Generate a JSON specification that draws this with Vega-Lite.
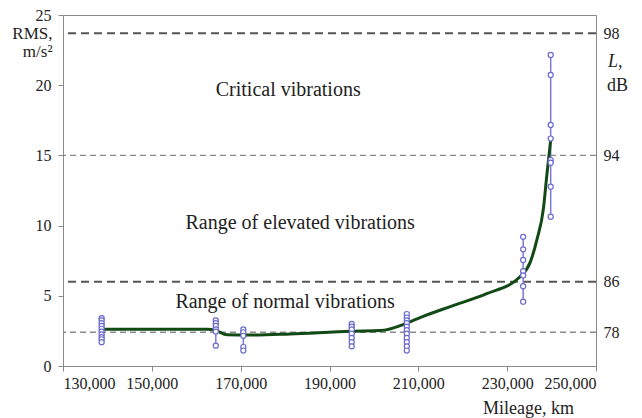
{
  "$schema": "https://vega.github.io/schema/vega-lite/v6.json",
  "width": 533,
  "height": 351,
  "autosize": "none",
  "padding": {"left": 63, "top": 15, "right": 46, "bottom": 52},
  "background": "white",
  "config": {
    "view": {"stroke": "#8a8a8a", "strokeWidth": 1},
    "font": "Liberation Serif",
    "axis": {
      "labelFont": "Liberation Serif",
      "titleFont": "Liberation Serif",
      "labelFontSize": 16,
      "titleFontSize": 18,
      "labelColor": "#222222",
      "titleColor": "#222222",
      "titleFontWeight": "normal",
      "domainColor": "#8a8a8a",
      "tickColor": "#8a8a8a",
      "grid": false
    }
  },
  "title": {
    "text": "L,",
    "font": "Liberation Serif",
    "fontStyle": "italic",
    "fontSize": 18,
    "fontWeight": "normal",
    "color": "#222222",
    "anchor": "end",
    "frame": "group",
    "align": "left",
    "baseline": "middle",
    "dx": 12,
    "dy": 77
  },
  "datasets": {
    "levels": [
      {"rms": 23.7, "L": 98, "kind": "major"},
      {"rms": 15, "L": 94, "kind": "minor"},
      {"rms": 6, "L": 86, "kind": "major"},
      {"rms": 2.4, "L": 78, "kind": "minor"}
    ],
    "curve": [
      {"mileage": 138700, "rms": 2.62},
      {"mileage": 150000, "rms": 2.62},
      {"mileage": 162400, "rms": 2.62},
      {"mileage": 164500, "rms": 2.52},
      {"mileage": 166900, "rms": 2.22},
      {"mileage": 172100, "rms": 2.2},
      {"mileage": 181100, "rms": 2.28},
      {"mileage": 195000, "rms": 2.48},
      {"mileage": 201400, "rms": 2.52},
      {"mileage": 207400, "rms": 3.05},
      {"mileage": 210400, "rms": 3.45},
      {"mileage": 217800, "rms": 4.3},
      {"mileage": 225400, "rms": 5.15},
      {"mileage": 232900, "rms": 6.36},
      {"mileage": 235200, "rms": 7.4},
      {"mileage": 236700, "rms": 9.0},
      {"mileage": 238200, "rms": 11.3},
      {"mileage": 238900, "rms": 13.5},
      {"mileage": 239800, "rms": 16.1}
    ],
    "points": [
      {"mileage": 138700, "rms": 3.4},
      {"mileage": 138700, "rms": 3.25},
      {"mileage": 138700, "rms": 3.05},
      {"mileage": 138700, "rms": 2.85},
      {"mileage": 138700, "rms": 2.65},
      {"mileage": 138700, "rms": 2.45},
      {"mileage": 138700, "rms": 2.25},
      {"mileage": 138700, "rms": 2.05},
      {"mileage": 138700, "rms": 1.9},
      {"mileage": 138700, "rms": 1.7},
      {"mileage": 164400, "rms": 3.25},
      {"mileage": 164400, "rms": 3.05},
      {"mileage": 164400, "rms": 2.85},
      {"mileage": 164400, "rms": 2.6},
      {"mileage": 164400, "rms": 2.45},
      {"mileage": 164400, "rms": 1.45},
      {"mileage": 170600, "rms": 2.6},
      {"mileage": 170600, "rms": 2.4},
      {"mileage": 170600, "rms": 2.15},
      {"mileage": 170600, "rms": 1.35},
      {"mileage": 170600, "rms": 1.1},
      {"mileage": 195000, "rms": 3.0},
      {"mileage": 195000, "rms": 2.8},
      {"mileage": 195000, "rms": 2.6},
      {"mileage": 195000, "rms": 2.3},
      {"mileage": 195000, "rms": 2.0},
      {"mileage": 195000, "rms": 1.7},
      {"mileage": 195000, "rms": 1.4},
      {"mileage": 207400, "rms": 3.7},
      {"mileage": 207400, "rms": 3.45},
      {"mileage": 207400, "rms": 3.25},
      {"mileage": 207400, "rms": 3.05},
      {"mileage": 207400, "rms": 2.8},
      {"mileage": 207400, "rms": 2.55},
      {"mileage": 207400, "rms": 2.3},
      {"mileage": 207400, "rms": 2.0},
      {"mileage": 207400, "rms": 1.7},
      {"mileage": 207400, "rms": 1.4},
      {"mileage": 207400, "rms": 1.1},
      {"mileage": 233600, "rms": 9.2},
      {"mileage": 233600, "rms": 8.31},
      {"mileage": 233600, "rms": 7.55},
      {"mileage": 233600, "rms": 6.75},
      {"mileage": 233600, "rms": 6.45},
      {"mileage": 233600, "rms": 5.68},
      {"mileage": 233600, "rms": 4.58},
      {"mileage": 239800, "rms": 22.15},
      {"mileage": 239800, "rms": 20.73},
      {"mileage": 239800, "rms": 17.17},
      {"mileage": 239800, "rms": 16.2},
      {"mileage": 239800, "rms": 14.67},
      {"mileage": 239800, "rms": 14.48},
      {"mileage": 239800, "rms": 12.77},
      {"mileage": 239800, "rms": 10.63}
    ],
    "notes": [
      {"mileage": 180700, "rms": 19.66, "label": "Critical vibrations"},
      {"mileage": 183400, "rms": 10.19, "label": "Range of elevated vibrations"},
      {"mileage": 180000, "rms": 4.56, "label": "Range of normal vibrations"}
    ]
  },
  "layer": [
    {
      "data": {"name": "levels"},
      "encoding": {
        "y": {
          "field": "rms",
          "type": "quantitative",
          "scale": {"domain": [0, 25], "nice": false, "zero": false},
          "axis": {
            "orient": "right",
            "values": [2.4, 6, 15, 23.7],
            "labelExpr": "datum.value == 23.7 ? '98' : datum.value == 15 ? '94' : datum.value == 6 ? '86' : '78'",
            "ticks": false,
            "labelPadding": 7,
            "title": "dB",
            "titleAngle": 0,
            "titleX": 21,
            "titleY": 70,
            "titleAlign": "center",
            "titleBaseline": "middle"
          }
        }
      },
      "layer": [
        {
          "transform": [{"filter": "datum.kind == 'major'"}],
          "mark": {"type": "rule", "color": "#555555", "strokeWidth": 2, "strokeDash": [8, 5]}
        },
        {
          "transform": [{"filter": "datum.kind == 'minor'"}],
          "mark": {"type": "rule", "color": "#8c8c8c", "strokeWidth": 1.4, "strokeDash": [6, 4]}
        }
      ]
    },
    {
      "encoding": {
        "x": {
          "field": "mileage",
          "type": "quantitative",
          "scale": {"domain": [130000, 250000], "nice": false, "zero": false},
          "axis": {
            "values": [130000, 150000, 170000, 190000, 210000, 230000, 250000],
            "format": ",d",
            "tickSize": 5,
            "labelPadding": 4,
            "title": "Mileage, km",
            "titleX": 465,
            "titleY": 42,
            "titleAlign": "center",
            "titleBaseline": "middle"
          }
        },
        "y": {
          "field": "rms",
          "type": "quantitative",
          "scale": {"domain": [0, 25], "nice": false, "zero": false},
          "axis": {
            "orient": "left",
            "values": [0, 5, 10, 15, 20, 25],
            "tickSize": 5,
            "labelPadding": 7,
            "title": ["RMS,", "m/s²"],
            "titleFontSize": 17,
            "titleAngle": 0,
            "titleX": -11,
            "titleY": 10,
            "titleAlign": "right",
            "titleBaseline": "top",
            "titleLineHeight": 18
          }
        }
      },
      "layer": [
        {
          "data": {"name": "points"},
          "transform": [
            {"aggregate": [{"op": "min", "field": "rms", "as": "rms"}, {"op": "max", "field": "rms", "as": "rms2"}], "groupby": ["mileage"]}
          ],
          "mark": {"type": "rule", "color": "#7b7bd6", "strokeWidth": 1.5},
          "encoding": {
            "y2": {"field": "rms2"}
          }
        },
        {
          "data": {"name": "curve"},
          "mark": {"type": "line", "color": "#124a16", "strokeWidth": 3, "interpolate": "monotone"}
        },
        {
          "data": {"name": "points"},
          "mark": {"type": "point", "shape": "circle", "filled": false, "fill": "white", "fillOpacity": 1, "stroke": "#6a6acc", "strokeWidth": 1.2, "size": 26, "opacity": 1}
        },
        {
          "data": {"name": "notes"},
          "mark": {"type": "text", "font": "Liberation Serif", "fontSize": 20, "color": "#222222", "align": "center", "baseline": "middle"},
          "encoding": {"text": {"field": "label"}}
        }
      ]
    }
  ],
  "resolve": {"scale": {"y": "independent"}}
}
